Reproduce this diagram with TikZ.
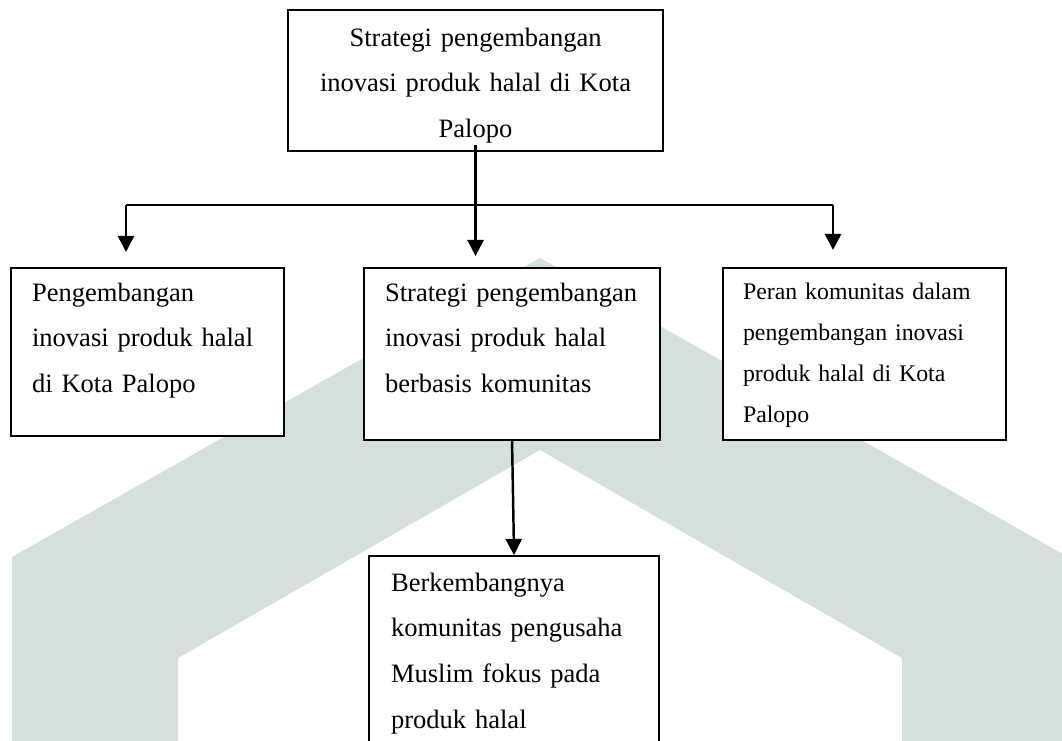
\documentclass[tikz,border=0pt]{standalone}
\usepackage{fontspec}
\setmainfont{Liberation Serif}
\usetikzlibrary{positioning, arrows.meta, calc}
\definecolor{wmGreen}{RGB}{212,224,220}

\begin{document}
\begin{tikzpicture}[
  chartbox/.style={draw, fill=white, line width=1.2pt, anchor=north west,
                   align=left, inner ysep=0pt, inner xsep=0.42cm,
                   font={\fontsize{15.1pt}{26pt}\selectfont}},
  smallbox/.style={chartbox, inner xsep=0.4cm,
                   font={\fontsize{13.55pt}{23.5pt}\selectfont}},
  flowarrow/.style={-{Triangle[length=3.2mm, width=3.2mm]}, line width=1.4pt},
]
  \useasboundingbox (0,0) rectangle (21.24,14.8);
  \clip (0,0) rectangle (21.24,14.8);

  % watermark behind the chart
  \fill[wmGreen] (0.24,-0.5) -- (0.24,3.66) -- (10.8,9.64) -- (21.36,3.66) -- (21.36,-0.5)
    -- (18.04,-0.5) -- (18.04,1.64) -- (10.8,5.8) -- (3.56,1.64) -- (3.56,-0.5) -- cycle;

  \node[chartbox, align=center, inner xsep=0.2cm, text width=7.1cm,
        text height=0.72cm, text depth=2.1cm] (tbox) at (5.74,14.62)
    {Strategi pengembangan\\inovasi produk halal di Kota\\Palopo};

  \node[chartbox, text width=4.62cm, text height=0.66cm, text depth=2.7cm]
    (lbox) at (0.2,9.46)
    {Pengembangan\\inovasi produk halal\\di Kota Palopo};
  \node[chartbox, text width=5.08cm, text height=0.66cm, text depth=2.78cm]
    (mbox) at (7.26,9.46)
    {Strategi pengembangan\\inovasi produk halal\\berbasis komunitas};
  \node[smallbox, text width=4.86cm, text height=0.62cm, text depth=2.82cm]
    (rbox) at (14.44,9.46)
    {Peran komunitas dalam\\pengembangan inovasi\\produk halal di Kota\\Palopo};

  \node[chartbox, inner xsep=0.44cm, text width=4.92cm, text height=0.7cm,
        text depth=3.7cm] (bbox) at (7.36,3.7)
    {Berkembangnya\\komunitas pengusaha\\Muslim fokus pada\\produk halal};

  % branching lines
  \coordinate (busL) at (2.52,10.7);
  \coordinate (busR) at (16.66,10.7);
  \draw[line width=1.4pt] (busL) -- (busR);
  \draw[flowarrow, shorten >=0.3cm] (busL) -- (busL |- lbox.north);
  \draw[flowarrow, shorten >=0.34cm] (busR) -- (busR |- rbox.north);
  \draw[flowarrow, shorten >=0.22cm] ([yshift=0.14cm]tbox.south) -- (tbox.south |- mbox.north);
  \draw[flowarrow] (mbox.south) -- (bbox.north);
\end{tikzpicture}
\end{document}
